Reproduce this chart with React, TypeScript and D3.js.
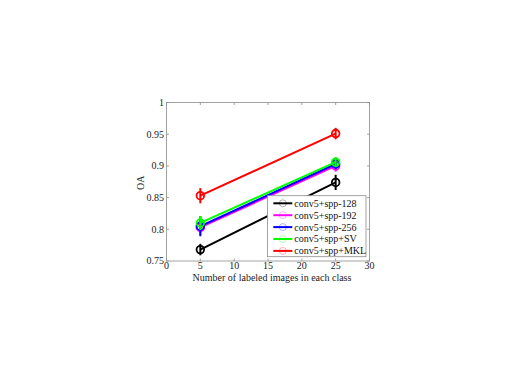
import React from "react";
import * as d3 from "d3";

const xValues = [5, 25];
const seriesNames = ["conv5+spp-128", "conv5+spp-192", "conv5+spp-256", "conv5+spp+SV", "conv5+spp+MKL"];
const seriesColors = ["#000000", "#ff00ff", "#0000ff", "#00ff00", "#ff0000"];
const seriesMeans = [
  [0.768, 0.874],
  [0.803, 0.9],
  [0.805, 0.903],
  [0.81, 0.906],
  [0.853, 0.951],
];
const seriesErrors = [
  [0.009, 0.012],
  [0.012, 0.009],
  [0.016, 0.008],
  [0.011, 0.008],
  [0.012, 0.009],
];
const xTicks = [0, 5, 10, 15, 20, 25, 30];
const yTicks = [0.75, 0.8, 0.85, 0.9, 0.95, 1];
const yTickLabels = ["0.75", "0.8", "0.85", "0.9", "0.95", "1"];

export default function App() {
  const W = 526, H = 372;
  const left = 166.5, right = 369.5, top = 102.5, bottom = 261;
  const x = d3.scaleLinear().domain([0, 30]).range([left, right]);
  const y = d3.scaleLinear().domain([0.75, 1]).range([bottom, top]);
  const font = "Liberation Serif";
  const fs = 10;
  const line = d3.line<[number, number]>().x(d => x(d[0])).y(d => y(d[1]));
  const legX = 267.5, legY = 195.7, legW = 98.5, legH = 61, rowH = 11.9;
  return (
    <svg width={W} height={H} style={{ position: "absolute", left: 0, top: 0 }}>
      <rect x={0} y={0} width={W} height={H} fill="#fff" />
      <rect x={left} y={top} width={right - left} height={bottom - top} fill="#fff" stroke="#8c8c8c" strokeWidth={0.8} />
      {xTicks.map(t => (
        <g key={"x" + t}>
          <line x1={x(t)} x2={x(t)} y1={bottom} y2={bottom - 2.5} stroke="#8c8c8c" strokeWidth={0.8} />
          <line x1={x(t)} x2={x(t)} y1={top} y2={top + 2.5} stroke="#8c8c8c" strokeWidth={0.8} />
          <text x={x(t)} y={bottom + 8} textAnchor="middle" fontFamily={font} fontSize={fs} fill="#222">{t}</text>
        </g>
      ))}
      {yTicks.map((t, i) => (
        <g key={"y" + t}>
          <line x1={left} x2={left + 2.5} y1={y(t)} y2={y(t)} stroke="#8c8c8c" strokeWidth={0.8} />
          <line x1={right} x2={right - 2.5} y1={y(t)} y2={y(t)} stroke="#8c8c8c" strokeWidth={0.8} />
          <text x={left - 2.5} y={y(t) + 3.3} textAnchor="end" fontFamily={font} fontSize={fs} fill="#222">{yTickLabels[i]}</text>
        </g>
      ))}
      <text x={(left + right) / 2 + 4} y={bottom + 19.5} textAnchor="middle" fontFamily={font} fontSize={fs} fill="#222">Number of labeled images in each class</text>
      <text transform={`translate(${left - 22.5},${(top + bottom) / 2 + 1}) rotate(-90)`} textAnchor="middle" fontFamily={font} fontSize={fs} fill="#222">OA</text>
      {seriesMeans.map((vals, si) => {
        const pts: [number, number][] = xValues.map((xv, i) => [xv, vals[i]]);
        const c = seriesColors[si];
        return (
          <g key={"s" + si}>
            <path d={line(pts) || ""} fill="none" stroke={c} strokeWidth={2} />
            {pts.map((p, i) => (
              <g key={i}>
                <line x1={x(p[0])} x2={x(p[0])} y1={y(p[1] - seriesErrors[si][i])} y2={y(p[1] + seriesErrors[si][i])} stroke={c} strokeWidth={2} />
                <circle cx={x(p[0])} cy={y(p[1])} r={3.8} fill="none" stroke={c} strokeWidth={1.8} />
              </g>
            ))}
          </g>
        );
      })}
      <rect x={legX} y={legY} width={legW} height={legH} fill="#fff" stroke="#8c8c8c" strokeWidth={0.8} />
      {seriesNames.map((n, i) => {
        const cy = legY + 7.6 + i * rowH;
        return (
          <g key={"l" + i}>
            <line x1={legX + 5.8} x2={legX + 24.8} y1={cy} y2={cy} stroke={seriesColors[i]} strokeWidth={2} />
            <circle cx={legX + 15.3} cy={cy} r={3.5} fill="none" stroke={seriesColors[i]} strokeWidth={1} opacity={0.3} />
            <text x={legX + 26.8} y={cy + 3.4} fontFamily={font} fontSize={fs} fill="#111">{n}</text>
          </g>
        );
      })}
    </svg>
  );
}
